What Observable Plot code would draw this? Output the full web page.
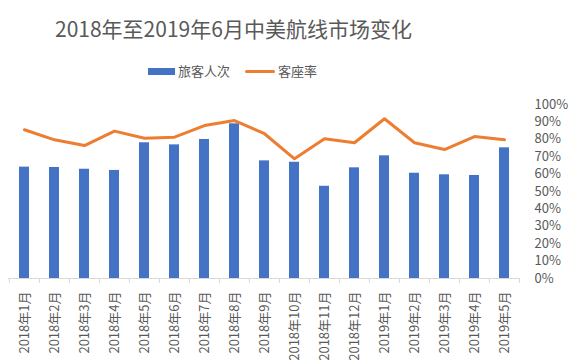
<!DOCTYPE html>
<html>
<head>
<meta charset="utf-8">
<script src="https://cdn.jsdelivr.net/npm/d3@7"></script>
<script src="https://cdn.jsdelivr.net/npm/@observablehq/plot@0.6"></script>
<style>
  body { margin: 0; background: #fff; font-family: "Noto Sans CJK SC", "Noto Sans", sans-serif; }
  #wrap { width: 581px; height: 360px; overflow: hidden; }
  #header { position: relative; width: 581px; height: 88px; color: #595959; }
  #title { position: absolute; left: 55px; top: 14px; font-size: 21px; line-height: 28px; white-space: nowrap; }
  .leg { position: absolute; top: 62px; font-size: 13px; line-height: 18px; display: flex; align-items: center; white-space: nowrap; }
  .sw-bar { width: 27px; height: 7px; background: #4472C4; margin-right: 3px; }
  .sw-line { width: 30px; height: 3px; background: #ED7D31; border-radius: 2px; margin-right: 3px; }
</style>
</head>
<body>
<div id="wrap">
  <div id="header">
    <div id="title">2018年至2019年6月中美航线市场变化</div>
    <div class="leg" style="left:148px"><span class="sw-bar"></span>旅客人次</div>
    <div class="leg" style="left:245px"><span class="sw-line"></span>客座率</div>
  </div>
  <div id="chart"></div>
</div>
<script>
const months = ["2018年1月","2018年2月","2018年3月","2018年4月","2018年5月","2018年6月","2018年7月","2018年8月","2018年9月","2018年10月","2018年11月","2018年12月","2019年1月","2019年2月","2019年3月","2019年4月","2019年5月"];
// 旅客人次 (万人次, estimated; bars share the right-hand scale with 100万 = 100%)
const passengers = [64.0, 63.8, 62.8, 62.1, 78.0, 76.8, 79.9, 88.9, 67.6, 66.8, 53.0, 63.6, 70.5, 60.5, 59.6, 59.2, 75.1];
// 客座率 (%)
const loadFactor = [85.5, 79.7, 76.4, 84.7, 80.6, 81.2, 87.9, 90.8, 83.2, 68.8, 80.3, 78.0, 91.8, 78.0, 74.1, 81.6, 79.7];
const yTicks = [0, 0.1, 0.2, 0.3, 0.4, 0.5, 0.6, 0.7, 0.8, 0.9, 1.0];

const data = months.map((m, i) => ({month: m, pax: passengers[i] / 100, lf: loadFactor[i] / 100}));

const chart = Plot.plot({
  width: 581,
  height: 272,
  marginLeft: 8,
  marginRight: 62,
  marginTop: 16,
  marginBottom: 82,
  style: {fontFamily: '"Noto Sans CJK SC", "Noto Sans", sans-serif', fontSize: "13px", color: "#595959", background: "transparent"},
  x: {domain: months, padding: 0},
  y: {domain: [0, 1]},
  marks: [
    Plot.barY(data, {x: "month", y: "pax", fill: "#4472C4", insetLeft: 10, insetRight: 10}),
    Plot.ruleY([0], {stroke: "#d9d9d9", strokeWidth: 1}),
    Plot.ruleX(months, {x: d => d, y1: 0, y2: -0.028, dx: -15.03, stroke: "#d9d9d9", clip: false}),
    Plot.ruleX(months.slice(-1), {x: d => d, y1: 0, y2: -0.028, dx: 15.03, stroke: "#d9d9d9", clip: false}),
    Plot.line(data, {x: "month", y: "lf", stroke: "#ED7D31", strokeWidth: 3, strokeLinejoin: "round", strokeLinecap: "round"}),
    Plot.axisX({tickSize: 0, tickPadding: 13, tickRotate: -90, label: null, fill: "#595959"}),
    Plot.axisY({anchor: "right", ticks: yTicks, tickSize: 0, tickPadding: 15, tickFormat: d3.format(".0%"), label: null, textAnchor: "start", fill: "#595959"})
  ]
});
document.getElementById("chart").appendChild(chart);
</script>
</body>
</html>
